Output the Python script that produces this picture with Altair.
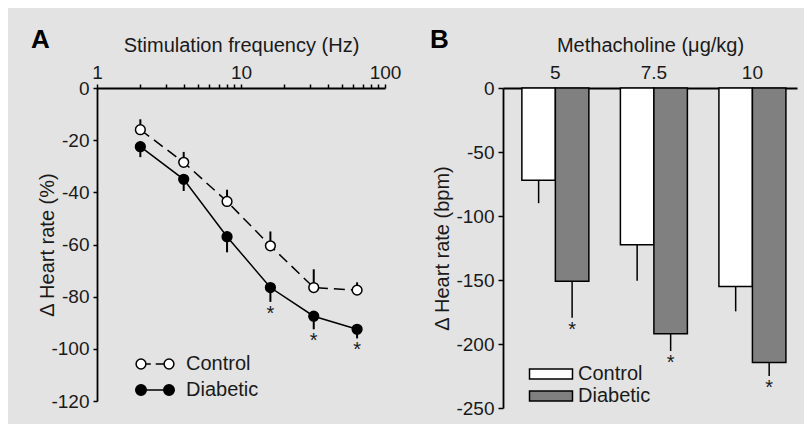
import altair as alt
import pandas as pd

# ---------------- data ----------------
series = ["Control", "Diabetic"]

# Panel A: stimulation frequency (Hz) vs change in heart rate (%)
freq = [2, 4, 8, 16, 32, 64]
ctrl_a = [-16, -28.5, -43.5, -60.5, -76.5, -77.5]
ctrl_a_err = [4, 4, 4.5, 5.5, 7, 3]
diab_a = [-22.5, -35, -57, -76.5, -87.5, -92.5]
diab_a_err = [4, 4.5, 6, 5.5, 5, 3.5]
sig_a = [False, False, False, True, True, True]

# Panel B: methacholine dose vs change in heart rate (bpm)
doses = ["5", "7.5", "10"]
ctrl_b = [-72, -122.5, -155]
ctrl_b_err = [18, 28, 19.5]
diab_b = [-151, -192, -214.5]
diab_b_err = [28.5, 13.5, 10.5]
sig_b = [True, True, True]

x_ticks_a = [1, 2, 3, 4, 5, 6, 7, 8, 9, 10, 20, 30, 40, 50, 60, 70, 80, 90, 100]
y_ticks_a = [0, -20, -40, -60, -80, -100, -120]
y_ticks_b = [0, -50, -100, -150, -200, -250]

# ---------------- tables ----------------
rows_a = []
for f, v, e in zip(freq, ctrl_a, ctrl_a_err):
    rows_a.append({"freq": f, "series": "Control", "value": v, "err_end": v + e, "sig": False})
for f, v, e, s in zip(freq, diab_a, diab_a_err, sig_a):
    rows_a.append({"freq": f, "series": "Diabetic", "value": v, "err_end": v - e, "sig": s})
df_a = pd.DataFrame(rows_a)

rows_b = []
for d, v, e in zip(doses, ctrl_b, ctrl_b_err):
    rows_b.append({"dose": d, "series": "Control", "value": v, "err_end": v - e, "sig": False})
for d, v, e, s in zip(doses, diab_b, diab_b_err, sig_b):
    rows_b.append({"dose": d, "series": "Diabetic", "value": v, "err_end": v - e, "sig": s})
df_b = pd.DataFrame(rows_b)

FONT = "Liberation Sans"
INK = "#1a1a1a"

# legend symbol paths (unit = half symbol width)
path_ctrl = ("M-2.7,0A0.7,0.7,0,1,0,-1.3,0A0.7,0.7,0,1,0,-2.7,0Z "
             "M1.3,0A0.7,0.7,0,1,0,2.7,0A0.7,0.7,0,1,0,1.3,0Z "
             "M-1.3,0L-0.6,0M0.1,0L1.3,0")
path_diab = ("M-2.75,0A0.75,0.75,0,1,0,-1.25,0A0.75,0.75,0,1,0,-2.75,0Z "
             "M1.25,0A0.75,0.75,0,1,0,2.75,0A0.75,0.75,0,1,0,1.25,0Z "
             "M-1.25,0L1.25,0")
path_rect = "M-3.07,-0.72H3.07V0.72H-3.07Z"

# ---------------- panel A ----------------
xa = alt.X("freq:Q",
           scale=alt.Scale(type="log", domain=[1, 100], nice=False),
           axis=alt.Axis(orient="top", values=x_ticks_a,
                         labelExpr="indexof([1,10,100], datum.value) >= 0 ? format(datum.value, 'd') : ''",
                         title="Stimulation frequency (Hz)", tickSize=4, labelPadding=2,
                         titlePadding=8, labelFlush=False))
ya = alt.Y("value:Q",
           scale=alt.Scale(domain=[-120, 0], nice=False),
           axis=alt.Axis(values=y_ticks_a,
                         labelExpr="datum.value == 0 ? '0' : '-' + abs(datum.value)",
                         title="Δ Heart rate (%)", tickSize=4, labelPadding=4, titlePadding=-7))

fill_a = alt.Scale(domain=series, range=["white", "black"])
shape_a = alt.Scale(domain=series, range=[path_ctrl, path_diab])
leg_a = alt.Legend(title=None, orient="none", legendX=48, legendY=266,
                   symbolSize=196, labelOffset=21, rowPadding=6, padding=0,
                   symbolStrokeColor="black", symbolStrokeWidth=1.5,
                   labelFontSize=20, labelFont=FONT, labelColor=INK)

base_a = alt.Chart(df_a)
line_ctrl = base_a.transform_filter("datum.series == 'Control'").mark_line(
    color="black", strokeWidth=1.5, strokeDash=[11, 6]).encode(x=xa, y=ya)
line_diab = base_a.transform_filter("datum.series == 'Diabetic'").mark_line(
    color="black", strokeWidth=1.5).encode(x=xa, y=ya)
err_a = base_a.mark_rule(color="black", strokeWidth=2).encode(x=xa, y=ya, y2="err_end:Q")
pts_a = base_a.mark_point(shape="circle", filled=True, stroke="black", strokeWidth=1.5, size=95, opacity=1).encode(
    x=xa, y=ya, fill=alt.Fill("series:N", scale=fill_a, legend=leg_a))
star_a = base_a.transform_filter("datum.sig").mark_text(
    text="*", fontSize=20, baseline="top", dy=2, color=INK, font=FONT).encode(
    x=xa, y=alt.Y("err_end:Q"))
legend_a = base_a.transform_filter("datum.value > 0").mark_point(
    filled=True, stroke="black", strokeWidth=1.5, opacity=1).encode(
    x=xa, y=ya,
    fill=alt.Fill("series:N", scale=fill_a, legend=leg_a),
    shape=alt.Shape("series:N", scale=shape_a, legend=leg_a))

panel_a = alt.layer(line_ctrl, line_diab, err_a, pts_a, star_a, legend_a).properties(
    width=288, height=313,
    title=alt.Title("A", anchor="start", frame="group", fontSize=26, fontWeight="bold",
                    dx=-66, dy=22, color="black", font=FONT))

# ---------------- panel B ----------------
xb = alt.X("dose:N", sort=doses,
           scale=alt.Scale(paddingInner=0.32, paddingOuter=0.152, align=0.63),
           axis=alt.Axis(orient="top", title="Methacholine (μg/kg)", ticks=False,
                         labelAngle=0, labelPadding=6, titlePadding=8))
xob = alt.XOffset("series:N", sort=series, scale=alt.Scale(paddingInner=0, paddingOuter=0))
yb = alt.Y("value:Q", stack=None,
           scale=alt.Scale(domain=[-250, 0], nice=False),
           axis=alt.Axis(values=y_ticks_b,
                         labelExpr="datum.value == 0 ? '0' : '-' + abs(datum.value)",
                         title="Δ Heart rate (bpm)", tickSize=5, labelPadding=4, titlePadding=3))

fill_b = alt.Scale(domain=series, range=["white", "#808080"])
leg_b = alt.Legend(title=None, orient="none", legendX=38, legendY=276,
                   symbolType=path_rect, symbolSize=196, labelOffset=17, rowPadding=2, padding=0,
                   symbolStrokeColor="black", symbolStrokeWidth=1.5,
                   labelFontSize=20, labelFont=FONT, labelColor=INK)

base_b = alt.Chart(df_b)
err_b = base_b.mark_rule(color="black", strokeWidth=1.5).encode(x=xb, xOffset=xob, y=yb, y2="err_end:Q")
bars_b = base_b.mark_bar(stroke="black", strokeWidth=1.5).encode(
    x=xb, xOffset=xob, y=yb, fill=alt.Fill("series:N", scale=fill_b, legend=leg_b))
star_b = base_b.transform_filter("datum.sig").mark_text(
    text="*", fontSize=20, baseline="top", dy=2, color=INK, font=FONT).encode(
    x=xb, xOffset=xob, y=alt.Y("err_end:Q"))

panel_b = alt.layer(err_b, bars_b, star_b).properties(
    width=294, height=320,
    title=alt.Title("B", anchor="start", frame="group", fontSize=26, fontWeight="bold",
                    dx=-73, dy=22, color="black", font=FONT))

chart = alt.hconcat(panel_a, panel_b, spacing=29).resolve_scale(
    x="independent", y="independent", fill="independent", shape="independent"
).properties(
    background="#e3e3e3",
    padding={"left": 23, "top": 19, "right": 7, "bottom": 6},
).configure_view(stroke=None).configure_axis(
    labelFont=FONT, titleFont=FONT, labelFontSize=19, titleFontSize=20,
    titleFontWeight="normal", labelColor=INK, titleColor=INK,
    domainColor="black", domainWidth=1.8, tickColor="black", tickWidth=1.5, grid=False
).configure_legend(labelFont=FONT)

chart.save("out.html", embed_options={"renderer": "svg", "actions": False})
